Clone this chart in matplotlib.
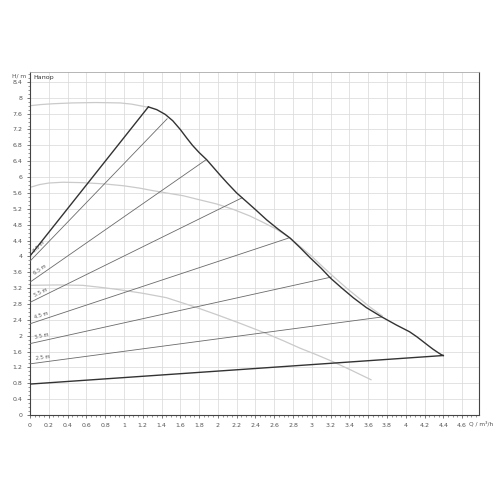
import numpy as np
from matplotlib import pyplot
from matplotlib.ticker import MultipleLocator, FuncFormatter

# envelope (max curve of the pump, right side)
env_q = [1.26, 1.35, 1.44, 1.52, 1.60, 1.67, 1.73, 1.80, 1.88, 1.95, 2.02, 2.10, 2.20,
         2.31, 2.40, 2.52, 2.64, 2.77, 2.88, 2.98, 3.10, 3.20, 3.32, 3.44, 3.58, 3.74,
         3.90, 4.04, 4.12, 4.18, 4.24, 4.29, 4.34, 4.38, 4.40]
env_h = [7.77, 7.70, 7.58, 7.42, 7.20, 6.98, 6.80, 6.62, 6.44, 6.25, 6.06, 5.85, 5.60,
         5.37, 5.18, 4.92, 4.69, 4.46, 4.21, 3.97, 3.70, 3.45, 3.20, 2.96, 2.71, 2.48,
         2.27, 2.10, 1.97, 1.86, 1.75, 1.66, 1.58, 1.52, 1.50]

# left and bottom boundary lines
left_q = [0.0, 1.26]
left_h = [4.01, 7.77]
bottom_q = [0.0, 4.40]
bottom_h = [0.78, 1.50]

# intermediate setpoint lines: start at q=0, end on envelope
set_labels = ['7.5 m', '6.5 m', '5.5 m', '4.5 m', '3.5 m', '2.5 m']
set_h0 = [3.88, 3.35, 2.84, 2.30, 1.80, 1.29]
set_q1 = [1.46, 1.87, 2.26, 2.75, 3.21, 3.74]
set_h1 = [7.47, 6.43, 5.48, 4.46, 3.48, 2.47]

# light speed curves
sp1_q = [0.0, 0.12, 0.25, 0.45, 0.70, 0.96, 1.08, 1.17, 1.26]
sp1_h = [7.80, 7.83, 7.85, 7.87, 7.88, 7.87, 7.84, 7.80, 7.76]
sp2_q = [0.0, 0.10, 0.20, 0.35, 0.55, 0.78, 1.00, 1.17, 1.28, 1.45, 1.63, 1.80, 1.99,
         2.17, 2.34, 2.48, 2.62, 2.72, 2.80, 2.90, 3.00, 3.12, 3.25, 3.38, 3.50, 3.62, 3.75]
sp2_h = [5.74, 5.81, 5.85, 5.87, 5.86, 5.83, 5.78, 5.72, 5.67, 5.60, 5.53, 5.43, 5.32,
         5.18, 5.02, 4.86, 4.69, 4.54, 4.40, 4.20, 4.00, 3.73, 3.45, 3.18, 2.95, 2.72, 2.50]
sp3_q = [0.0, 0.30, 0.56, 0.75, 0.92, 1.20, 1.45, 1.75, 2.00, 2.25, 2.50, 2.70, 2.87,
         3.05, 3.22, 3.42, 3.63]
sp3_h = [3.27, 3.28, 3.27, 3.22, 3.17, 3.07, 2.96, 2.73, 2.52, 2.30, 2.07, 1.87, 1.69,
         1.52, 1.35, 1.13, 0.89]

fig = pyplot.figure(figsize=(5, 5), dpi=100)
ax = fig.add_axes([0.06, 0.17, 0.898, 0.686])
ax.set_xlim(0, 4.78)
ax.set_ylim(0, 8.65)

# grid
ax.xaxis.set_major_locator(MultipleLocator(0.2))
ax.xaxis.set_minor_locator(MultipleLocator(0.05))
ax.yaxis.set_major_locator(MultipleLocator(0.4))
ax.yaxis.set_minor_locator(MultipleLocator(0.1))
ax.grid(True, which='major', color='#d8d8d8', linewidth=0.5, zorder=0)
ax.set_axisbelow(True)

fmt = FuncFormatter(lambda v, p: '%g' % round(v, 2))
ax.xaxis.set_major_formatter(fmt)
ax.yaxis.set_major_formatter(fmt)
ax.set_xticks([round(0.2 * i, 2) for i in range(24)])

ax.tick_params(which='major', direction='out', length=2.5, width=0.5, color='#444444',
               labelsize=4.5, labelcolor='#555555', pad=3)
ax.tick_params(which='minor', direction='out', length=1.5, width=0.4, color='#444444')
ax.tick_params(axis='x', pad=3.5)

for side in ['left', 'bottom', 'right']:
    ax.spines[side].set_color('#444444')
    ax.spines[side].set_linewidth(0.8)
ax.spines['top'].set_color('#aaaaaa')
ax.spines['top'].set_linewidth(0.6)

# light speed curves
for q, h in [(sp1_q, sp1_h), (sp2_q, sp2_h), (sp3_q, sp3_h)]:
    ax.plot(q, h, color='#cacaca', linewidth=0.9, zorder=2, solid_joinstyle='round')

# setpoint lines with labels
for lab, h0, q1, h1 in zip(set_labels, set_h0, set_q1, set_h1):
    ax.plot([0, q1], [h0, h1], color='#6a6a6a', linewidth=0.6, zorder=3)
    slope = (h1 - h0) / q1
    qx = 0.06
    ax.text(qx, h0 + slope * qx + 0.05, lab, fontsize=3.6, color='#555555',
            rotation=np.degrees(np.arctan(slope)), rotation_mode='anchor',
            transform_rotates_text=True, ha='left', va='bottom', zorder=4)

# black boundary
ax.plot(left_q, left_h, color='#333333', linewidth=1.0, zorder=5)
ax.plot(env_q, env_h, color='#333333', linewidth=1.0, zorder=5, solid_joinstyle='round')
ax.plot(bottom_q, bottom_h, color='#333333', linewidth=1.0, zorder=5)

# texts
ax.text(-0.008, 0.995, 'H/ m', transform=ax.transAxes, fontsize=4.3, color='#555555',
        ha='right', va='top')
ax.text(0.008, 0.99, 'Напор', transform=ax.transAxes, fontsize=4.5, color='#333333',
        ha='left', va='top')
ax.text(4.67, -0.026, 'Q / m³/h', transform=ax.get_xaxis_transform(), fontsize=4.2,
        color='#555555', ha='left', va='center')

fig.savefig('out.png', dpi=100)
